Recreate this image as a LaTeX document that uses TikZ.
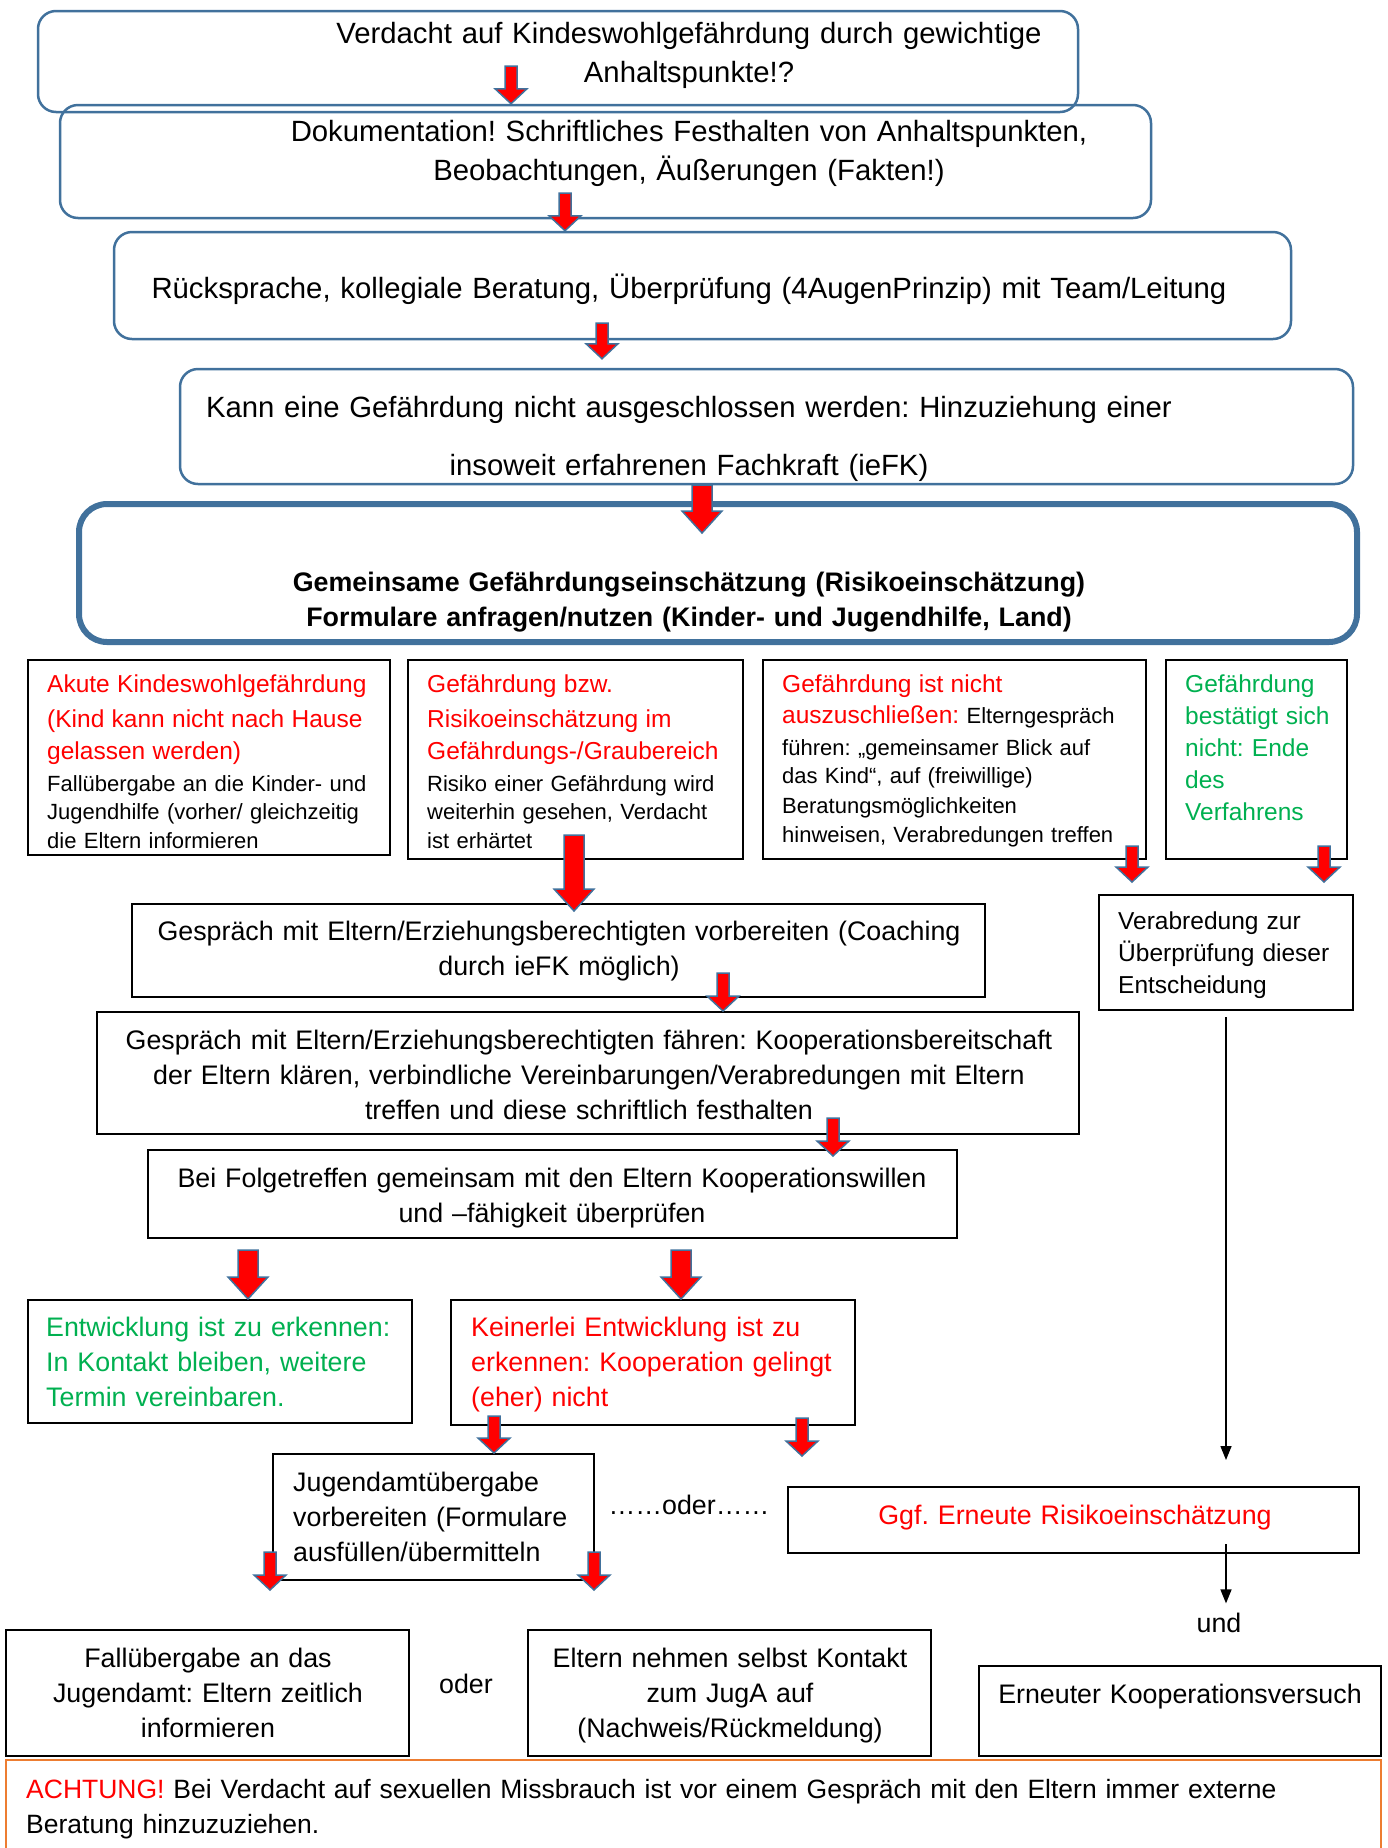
\documentclass[tikz,border=0pt]{standalone}
\usepackage{fontspec}
\setmainfont{Liberation Sans}
\usetikzlibrary{calc,fit,arrows.meta}
\frenchspacing

\definecolor{rahmenblau}{RGB}{65,113,156}
\definecolor{gruen}{RGB}{0,176,80}
\definecolor{orangerahmen}{RGB}{237,125,49}

\newcommand{\fontbig}{\fontsize{29.3}{39}\selectfont}
\newcommand{\fontmid}{\fontsize{26.8}{35}\selectfont}
\newcommand{\fontred}{\fontsize{24.5}{32}\selectfont}
\newcommand{\fontsmall}{\fontsize{22}{28.5}\selectfont}

% Blockpfeil: halbe Schaftbreite, halbe Spitzenbreite, Spitzenlaenge, Start, Spitze
\newcommand{\blockarrow}[5]{%
  \filldraw[pfeil] let \p1=(#4), \p2=(#5) in
    (\x1-#1,\y1) -- (\x1-#1,\y2+#3) -- (\x1-#2,\y2+#3) -- (\x1,\y2)
    -- (\x1+#2,\y2+#3) -- (\x1+#1,\y2+#3) -- (\x1+#1,\y1) -- cycle;}
\newcommand{\smallarrow}[2]{\blockarrow{6pt}{16pt}{15pt}{#1}{#2}}
\newcommand{\bigarrow}[2]{\blockarrow{10pt}{20pt}{22pt}{#1}{#2}}

\tikzset{
  rundbox/.style={draw=rahmenblau, line width=2.5pt, rounded corners=18pt, inner sep=0pt},
  dickbox/.style={draw=rahmenblau, line width=6pt, rounded corners=28pt, inner sep=0pt},
  eckbox/.style={draw=black, line width=2pt, inner sep=0pt},
  warnbox/.style={draw=orangerahmen, line width=2pt, inner sep=0pt},
  txt/.style={inner sep=0pt, align=center, anchor=base, text width=1300pt},
  txtl/.style={inner sep=0pt, align=left, anchor=base west, text width=#1},
  pfeil/.style={fill=red, draw=rahmenblau, line width=1.5pt},
  duenn/.style={draw=black, line width=1.5pt, -{Triangle[length=14pt,width=11pt]}},
}

\begin{document}
\begin{tikzpicture}[x=1pt,y=-1pt]
  \useasboundingbox (0,0) rectangle (1388,1848);
  \clip (0,0) rectangle (1388,1848);

  % Kaesten oben
  \node[rundbox, fit={(38,11) (1078,112)}] (b1) {};
  \node[txt, font=\fontbig] (t1) at (689,43) {Verdacht auf Kindeswohlgefährdung durch gewichtige\\ Anhaltspunkte!?};
  \node[rundbox, fit={(60,105) (1151,218)}] (b2) {};
  \node[txt, font=\fontbig] (t2) at (689,141) {Dokumentation! Schriftliches Festhalten von Anhaltspunkten,\\ Beobachtungen, Äußerungen (Fakten!)};
  \node[rundbox, fit={(114,232) (1291,339)}] (b3) {};
  \node[txt, font=\fontbig] (t3) at (689,298) {Rücksprache, kollegiale Beratung, Überprüfung (4AugenPrinzip) mit Team/Leitung};
  \node[rundbox, fit={(180,369) (1353,484)}] (b4) {};
  \node[txt, font=\fontbig] (t4) at (689,417) {Kann eine Gefährdung nicht ausgeschlossen werden: Hinzuziehung einer\\[19pt] insoweit erfahrenen Fachkraft (ieFK)};
  \node[dickbox, fit={(79,504) (1357,642)}] (b5) {};
  \node[txt, font=\fontmid\bfseries] (t5) at (689,591) {Gemeinsame Gefährdungseinschätzung (Risikoeinschätzung)\\ Formulare anfragen/nutzen (Kinder- und Jugendhilfe, Land)};

  % vier Faelle
  \node[eckbox, fit={(28,660) (390,855)}] (bA) {};
  \node[txtl=400, font=\fontsmall] (tA) at (47,692) {{\fontred\color{red}Akute Kindeswohlgefährdung\\[3pt] (Kind kann nicht nach Hause\\[3.5pt] gelassen werden)}\\[3.5pt] Fallübergabe an die Kinder- und\\ Jugendhilfe (vorher/ gleichzeitig\\ die Eltern informieren};
  \node[eckbox, fit={(408,660) (743,859)}] (bB) {};
  \node[txtl=400, font=\fontsmall] (tB) at (427,692) {{\fontred\color{red}Gefährdung bzw.\\[3pt] Risikoeinschätzung im\\[3.5pt] Gefährdungs-/Graubereich}\\[3.5pt] Risiko einer Gefährdung wird\\ weiterhin gesehen, Verdacht\\ ist erhärtet};
  \node[eckbox, fit={(763,660) (1146,859)}] (bC) {};
  \node[txtl=400, font=\fontsmall] (tC) at (782,692) {{\fontred\color{red}Gefährdung ist nicht\\[2.5pt] auszuschließen:} Elterngespräch\\[3.5pt] führen: „gemeinsamer Blick auf\\ das Kind“, auf (freiwillige)\\[1.5pt] Beratungsmöglichkeiten\\ hinweisen, Verabredungen treffen};
  \node[eckbox, fit={(1166,660) (1347,859)}] (bD) {};
  \node[txtl=200, font=\fontred, text=gruen] (tD) at (1185,692) {Gefährdung\\ bestätigt sich\\ nicht: Ende\\ des\\ Verfahrens};

  % Gespraeche
  \node[eckbox, fit={(132,904) (985,997)}] (bE) {};
  \node[txt, font=\fontmid] (tE) at (559,940) {Gespräch mit Eltern/Erziehungsberechtigten vorbereiten (Coaching\\ durch ieFK möglich)};
  \node[eckbox, fit={(1099,895) (1353,1010)}] (bF) {};
  \node[txtl=240, font=\fontred] (tF) at (1118,929) {Verabredung zur\\ Überprüfung dieser\\ Entscheidung};
  \node[eckbox, fit={(97,1012) (1079,1134)}] (bG) {};
  \node[txt, font=\fontmid] (tG) at (589,1049) {Gespräch mit Eltern/Erziehungsberechtigten fähren: Kooperationsbereitschaft\\ der Eltern klären, verbindliche Vereinbarungen/Verabredungen mit Eltern\\ treffen und diese schriftlich festhalten};
  \node[eckbox, fit={(148,1150) (957,1238)}] (bH) {};
  \node[txt, font=\fontmid] (tH) at (552,1187) {Bei Folgetreffen gemeinsam mit den Eltern Kooperationswillen\\ und –fähigkeit überprüfen};

  % Entwicklung ja / nein
  \node[eckbox, fit={(28,1300) (412,1423)}] (bI) {};
  \node[txtl=400, font=\fontmid, text=gruen] (tI) at (46,1336) {Entwicklung ist zu erkennen:\\ In Kontakt bleiben, weitere\\ Termin vereinbaren.};
  \node[eckbox, fit={(451,1300) (855,1425)}] (bJ) {};
  \node[txtl=400, font=\fontmid, text=red] (tJ) at (471,1336) {Keinerlei Entwicklung ist zu\\ erkennen: Kooperation gelingt\\ (eher) nicht};
  \node[eckbox, fit={(273,1454) (594,1580)}] (bK) {};
  \node[txtl=320, font=\fontmid] (tK) at (293,1491) {Jugendamtübergabe\\ vorbereiten (Formulare\\ ausfüllen/übermitteln};
  \node[txt, font=\fontmid] (oder1) at (689,1514) {……oder……};
  \node[eckbox, fit={(788,1487) (1359,1553)}] (bL) {};
  \node[txt, font=\fontmid, text=red] (tL) at (1075,1524) {Ggf. Erneute Risikoeinschätzung};
  \node[txt, font=\fontmid, text width=60pt] (und) at (1219,1632) {und};

  % unten
  \node[eckbox, fit={(6,1630) (409,1756)}] (bM) {};
  \node[txt, font=\fontmid] (tM) at (208,1667) {Fallübergabe an das\\ Jugendamt: Eltern zeitlich\\ informieren};
  \node[txt, font=\fontmid] (oder2) at (466,1693) {oder};
  \node[eckbox, fit={(528,1630) (931,1756)}] (bN) {};
  \node[txt, font=\fontmid] (tN) at (730,1667) {Eltern nehmen selbst Kontakt\\ zum JugA auf\\ (Nachweis/Rückmeldung)};
  \node[eckbox, fit={(979,1666) (1381,1756)}] (bO) {};
  \node[txt, font=\fontmid] (tO) at (1180,1703) {Erneuter Kooperationsversuch};
  \node[warnbox, fit={(6,1760) (1381,1880)}] (bP) {};
  \node[txtl=1350, font=\fontsize{26.5}{35}\selectfont] (tP) at (26,1798) {{\color{red}ACHTUNG!} Bei Verdacht auf sexuellen Missbrauch ist vor einem Gespräch mit den Eltern immer externe\\ Beratung hinzuzuziehen.};

  % duenne Pfeile rechts
  \draw[duenn, shorten <=6pt, shorten >=26pt] (bF.south) -- (bF.south |- bL.north);
  \draw[duenn, shorten <=-10pt, shorten >=9pt] (bF.south |- bL.south) -- (bF.south |- und.north);

  % rote Pfeile
  \coordinate (s1) at (511,66);
  \coordinate (s2) at (565,193);
  \coordinate (s3) at (602,323);
  \coordinate (s4) at (702,485);
  \coordinate (sB) at (574,835);
  \coordinate (sC) at (1132,846);
  \coordinate (sD) at (1324,846);
  \coordinate (sE) at (723,973);
  \coordinate (sG) at (833,1118);
  \coordinate (sH1) at (248,1250);
  \coordinate (sH2) at (681,1250);
  \coordinate (sJ1) at (494,1416);
  \coordinate (sJ2) at (802,1418);
  \coordinate (sK1) at (270,1552);
  \coordinate (sK2) at (594,1552);
  \smallarrow{s1}{s1 |- b2.north}
  \smallarrow{s2}{s2 |- b3.north}
  \smallarrow{s3}{$(s3 |- b4.north)+(0,-9)$}
  \bigarrow{s4}{$(s4 |- b5.north)+(0,32)$}
  \bigarrow{sB}{$(sB |- bE.north)+(0,8)$}
  \smallarrow{sC}{$(sC |- bF.north)+(0,-12)$}
  \smallarrow{sD}{$(sD |- bF.north)+(0,-12)$}
  \smallarrow{sE}{sE |- bG.north}
  \smallarrow{sG}{$(sG |- bH.north)+(0,7)$}
  \bigarrow{sH1}{sH1 |- bI.north}
  \bigarrow{sH2}{sH2 |- bJ.north}
  \smallarrow{sJ1}{sJ1 |- bK.north}
  \smallarrow{sJ2}{$(sJ2 |- bL.north)+(0,-30)$}
  \smallarrow{sK1}{$(sK1 |- bM.north)+(0,-39)$}
  \smallarrow{sK2}{$(sK2 |- bN.north)+(0,-39)$}
\end{tikzpicture}
\end{document}
